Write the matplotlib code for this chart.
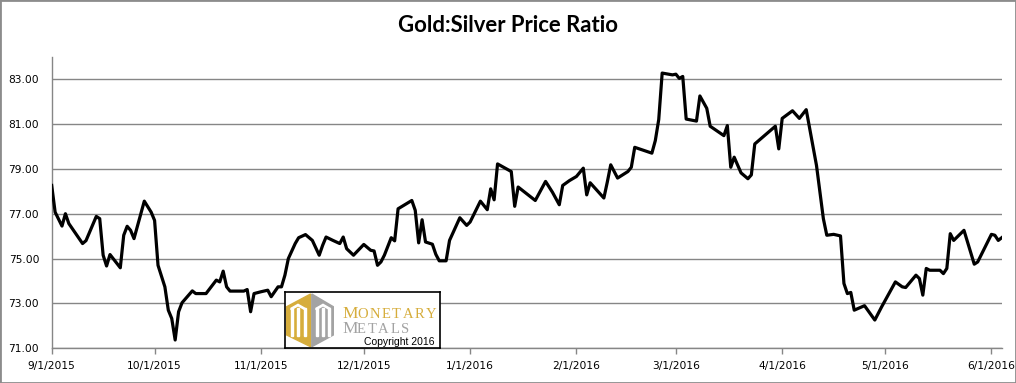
import numpy as np
import pandas as pd
import matplotlib
matplotlib.use("Agg")
import matplotlib.pyplot as plt
import matplotlib.dates as mdates
from matplotlib.patches import Rectangle, Polygon
from matplotlib.ticker import FuncFormatter

# gold:silver ratio (vertices of the line)
dates = [
    "2015-09-01", "2015-09-02", "2015-09-04", "2015-09-05", "2015-09-06", "2015-09-09",
    "2015-09-10", "2015-09-11", "2015-09-14", "2015-09-15", "2015-09-16", "2015-09-17",
    "2015-09-18", "2015-09-21", "2015-09-22", "2015-09-23", "2015-09-24", "2015-09-25",
    "2015-09-28", "2015-09-30", "2015-10-01", "2015-10-02", "2015-10-04", "2015-10-05",
    "2015-10-06", "2015-10-07", "2015-10-08", "2015-10-09", "2015-10-12", "2015-10-13",
    "2015-10-16", "2015-10-19", "2015-10-20", "2015-10-21", "2015-10-22", "2015-10-23",
    "2015-10-27", "2015-10-28", "2015-10-29", "2015-10-30", "2015-11-01", "2015-11-03",
    "2015-11-04", "2015-11-06", "2015-11-07", "2015-11-08", "2015-11-09", "2015-11-11",
    "2015-11-12", "2015-11-14", "2015-11-16", "2015-11-18", "2015-11-19", "2015-11-20",
    "2015-11-22", "2015-11-24", "2015-11-25", "2015-11-26", "2015-11-28", "2015-12-01",
    "2015-12-03", "2015-12-04", "2015-12-05", "2015-12-06", "2015-12-07", "2015-12-09",
    "2015-12-10", "2015-12-11", "2015-12-15", "2015-12-16", "2015-12-17", "2015-12-18",
    "2015-12-19", "2015-12-21", "2015-12-22", "2015-12-23", "2015-12-25", "2015-12-26",
    "2015-12-29", "2015-12-31", "2016-01-01", "2016-01-04", "2016-01-06", "2016-01-07",
    "2016-01-08", "2016-01-09", "2016-01-13", "2016-01-14", "2016-01-15", "2016-01-20",
    "2016-01-23", "2016-01-25", "2016-01-27", "2016-01-28", "2016-01-30", "2016-02-01",
    "2016-02-03", "2016-02-04", "2016-02-05", "2016-02-09", "2016-02-10", "2016-02-11",
    "2016-02-13", "2016-02-16", "2016-02-17", "2016-02-18", "2016-02-23", "2016-02-24",
    "2016-02-25", "2016-02-26", "2016-02-29", "2016-03-01", "2016-03-02", "2016-03-03",
    "2016-03-04", "2016-03-07", "2016-03-08", "2016-03-10", "2016-03-11", "2016-03-15",
    "2016-03-16", "2016-03-17", "2016-03-18", "2016-03-20", "2016-03-22", "2016-03-23",
    "2016-03-24", "2016-03-30", "2016-03-31", "2016-04-01", "2016-04-04", "2016-04-06",
    "2016-04-08", "2016-04-11", "2016-04-13", "2016-04-14", "2016-04-16", "2016-04-18",
    "2016-04-19", "2016-04-20", "2016-04-21", "2016-04-22", "2016-04-25", "2016-04-28",
    "2016-04-30", "2016-05-04", "2016-05-06", "2016-05-07", "2016-05-10", "2016-05-11",
    "2016-05-12", "2016-05-13", "2016-05-14", "2016-05-17", "2016-05-18", "2016-05-19",
    "2016-05-20", "2016-05-21", "2016-05-24", "2016-05-27", "2016-05-28", "2016-06-01",
    "2016-06-02", "2016-06-03", "2016-06-04",
]
ratio = [
    78.26, 77.07, 76.45, 77.00, 76.56, 75.89,
    75.67, 75.80, 76.88, 76.78, 75.15, 74.67,
    75.18, 74.59, 76.04, 76.44, 76.26, 75.89,
    77.56, 77.07, 76.70, 74.70, 73.74, 72.70,
    72.33, 71.37, 72.63, 73.03, 73.56, 73.44,
    73.44, 74.04, 73.96, 74.44, 73.74, 73.55,
    73.55, 73.62, 72.63, 73.44, 73.52, 73.59,
    73.30, 73.74, 73.74, 74.26, 75.00, 75.67,
    75.93, 76.07, 75.81, 75.15, 75.59, 75.96,
    75.81, 75.67, 75.96, 75.44, 75.15, 75.63,
    75.37, 75.34, 74.70, 74.85, 75.15, 75.93,
    75.79, 77.22, 77.59, 77.15, 75.70, 76.73,
    75.74, 75.64, 75.19, 74.90, 74.90, 75.81,
    76.82, 76.48, 76.63, 77.56, 77.18, 78.11,
    77.62, 79.22, 78.88, 77.33, 78.19, 77.59,
    78.44, 77.96, 77.40, 78.26, 78.48, 78.66,
    79.03, 77.84, 78.38, 77.70, 78.41, 79.18,
    78.59, 78.88, 79.07, 79.96, 79.70, 80.26,
    81.20, 83.27, 83.19, 83.22, 83.03, 83.12,
    81.22, 81.13, 82.25, 81.70, 80.90, 80.48,
    80.93, 79.07, 79.52, 78.82, 78.56, 78.73,
    80.11, 80.90, 79.89, 81.25, 81.59, 81.25,
    81.64, 79.15, 76.78, 76.04, 76.08, 76.01,
    73.89, 73.44, 73.49, 72.70, 72.90, 72.26,
    72.85, 73.96, 73.74, 73.71, 74.26, 74.11,
    73.37, 74.56, 74.48, 74.48, 74.33, 74.56,
    76.11, 75.81, 76.26, 74.75, 74.85, 76.08,
    76.04, 75.81, 75.93,
]
y_ticks = [71, 73, 75, 77, 79, 81, 83]

x = pd.to_datetime(dates)
W, H = 1016, 383
grid_gray = "#868686"

plt.rcParams["font.family"] = "DejaVu Sans"
fig = plt.figure(figsize=(W / 100, H / 100), dpi=100)
fig.patch.set_facecolor("white")

ax = fig.add_axes([51.7 / W, 1 - 348.3 / H, 950 / W, 291.6 / H])
ax.plot(x, ratio, color="black", lw=2.3, solid_joinstyle="round", zorder=3)

ax.set_ylim(71, 84)
ax.set_yticks(y_ticks)
ax.yaxis.set_major_formatter(FuncFormatter(lambda v, p: f"{v:.2f}"))
ax.set_xlim(pd.Timestamp("2015-09-01"), pd.Timestamp("2016-06-04"))
ax.xaxis.set_major_locator(mdates.MonthLocator(bymonthday=1))
ax.xaxis.set_major_formatter(
    FuncFormatter(lambda v, p: "{d.month}/{d.day}/{d.year}".format(d=mdates.num2date(v))))

ax.grid(axis="y", color=grid_gray, lw=1.0)
ax.set_axisbelow(True)
for s in ["top", "right"]:
    ax.spines[s].set_visible(False)
for s in ["left", "bottom"]:
    ax.spines[s].set_color(grid_gray)
    ax.spines[s].set_linewidth(1.0)
ax.tick_params(axis="y", length=0, pad=9, labelsize=7.7, labelcolor="black")
ax.tick_params(axis="x", length=4, width=1, color=grid_gray, direction="out",
               pad=5, labelsize=7.7, labelcolor="black")

fig.text(0.5, 1 - 26 / H, "Gold:Silver Price Ratio", ha="center", va="center",
         fontsize=15.9, fontweight="bold", family="Lato")

# outer chart border
fig.patches.append(Rectangle((0, 0), 1, 1, transform=fig.transFigure, fill=False,
                             edgecolor="#8c8c8c", lw=2))

# Monetary Metals logo box
gold = "#d6ad3c"
silver = "#a3a3a3"
lx0, ly0, lw_, lh_ = 285, 292.3, 155, 56
lax = fig.add_axes([lx0 / W, 1 - (ly0 + lh_) / H, lw_ / W, lh_ / H], zorder=5)
lax.set_xlim(0, lw_)
lax.set_ylim(lh_, 0)
lax.set_xticks([])
lax.set_yticks([])
lax.set_facecolor("white")
for s in lax.spines.values():
    s.set_color("black")
    s.set_linewidth(1.2)

lax.add_patch(Polygon([(25.6, 1.7), (1.7, 14.4), (1.7, 42.7), (25.6, 54.4)], color=gold))
lax.add_patch(Polygon([(26.8, 1.7), (48.3, 14.4), (48.3, 42.7), (26.8, 54.4)], color=silver))
for bx in [6.5, 13, 19.5, 31.5, 38, 44]:
    lax.add_patch(Rectangle((bx - 1, 16), 2.2, 28, color="white"))
lax.add_patch(Polygon([(6, 16), (13, 12), (20, 16), (20, 17.5), (13, 13.5), (6, 17.5)],
                      color="white"))
lax.add_patch(Polygon([(31, 16), (38, 12), (45, 16), (45, 17.5), (38, 13.5), (31, 17.5)],
                      color="white"))


def spaced(word, x0, y0, color, gap):
    # letter-spaced small caps using approximate serif cap widths (in em)
    em = 10.5 * 100 / 72
    widths = {"O": .72, "N": .72, "E": .61, "T": .61, "A": .72, "R": .67, "Y": .72, "L": .61,
              "S": .56}
    xx = x0
    for ch in word:
        lax.text(xx, y0, ch, color=color, family="Liberation Serif", fontsize=10.5,
                 va="baseline", ha="left")
        xx += widths[ch] * em + gap


lax.text(57.5, 25.7, "M", color=gold, family="Liberation Serif", fontsize=12.5, va="baseline")
spaced("ONETARY", 72, 25.7, gold, 1.7)
lax.text(57.5, 40.4, "M", color=silver, family="Liberation Serif", fontsize=12.5, va="baseline")
spaced("ETALS", 72, 40.4, silver, 1.7)
lax.text(114.7, 49.6, "Copyright 2016", color="black", family="Liberation Sans",
         fontsize=7.5, ha="center", va="center")

fig.savefig("out.png", dpi=100)
